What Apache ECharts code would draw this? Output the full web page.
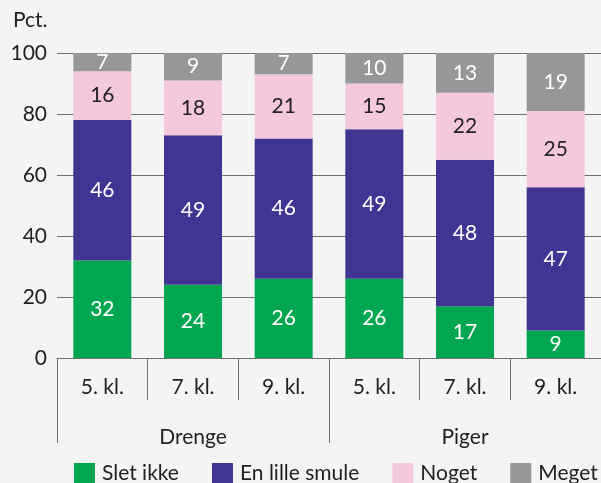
<!DOCTYPE html>
<html>
<head>
<meta charset="utf-8">
<script src="https://cdn.jsdelivr.net/npm/echarts@6/dist/echarts.min.js"></script>
<style>
  html, body { margin: 0; padding: 0; background: #f4f4f4; }
  #chart { width: 601px; height: 483px; }
</style>
</head>
<body>
<div id="chart"></div>
<script>
const classes = ['5. kl.', '7. kl.', '9. kl.', '5. kl.', '7. kl.', '9. kl.'];
const groups = ['Drenge', 'Piger'];
const yTicks = [0, 20, 40, 60, 80, 100];

const sletIkke = [32, 24, 26, 26, 17, 9];
const lilleSmule = [46, 49, 46, 49, 48, 47];
const noget = [16, 18, 21, 15, 22, 25];
const meget = [7, 9, 7, 10, 13, 19];

const font = 'Lato, "Noto Sans", sans-serif';
const gridColor = '#6f6f6f';
const fs = 21;

function barSeries(name, data, color, labelColor) {
  return {
    name: name,
    type: 'bar',
    stack: 'total',
    data: data,
    barWidth: 58,
    itemStyle: { color: color },
    label: {
      show: true,
      position: 'inside',
      color: labelColor,
      fontSize: fs,
      fontFamily: font
    }
  };
}

const chart = echarts.init(document.getElementById('chart'));
chart.setOption({
  backgroundColor: '#f4f4f4',
  animation: false,
  title: {
    text: 'Pct.',
    left: 8,
    top: 5,
    textStyle: { fontSize: fs, fontWeight: 'normal', color: '#222', fontFamily: font }
  },
  grid: { left: 57, right: 0, top: 53, bottom: 125 },
  legend: {
    top: 463,
    left: 74,
    itemWidth: 21,
    itemHeight: 21,
    itemGap: 33,
    padding: 0,
    icon: 'rect',
    textStyle: { fontSize: fs, color: '#222', fontFamily: font, padding: [0, 0, 0, 2] },
    data: ['Slet ikke', 'En lille smule', 'Noget', 'Meget']
  },
  xAxis: [
    {
      type: 'category',
      data: classes,
      axisLine: { show: true, lineStyle: { color: gridColor, width: 1 } },
      axisTick: { show: true, length: 42, lineStyle: { color: gridColor } },
      axisLabel: { margin: 19, fontSize: fs, color: '#222', fontFamily: font }
    },
    {
      type: 'category',
      position: 'bottom',
      data: groups,
      axisLine: { show: false },
      axisTick: { show: true, length: 85, lineStyle: { color: gridColor } },
      axisLabel: { margin: 69, fontSize: fs, color: '#222', fontFamily: font }
    }
  ],
  yAxis: {
    type: 'value',
    min: yTicks[0],
    max: yTicks[yTicks.length - 1],
    interval: 20,
    axisLine: { show: false },
    axisTick: { show: false },
    splitLine: { lineStyle: { color: gridColor, width: 1 } },
    axisLabel: { margin: 10, fontSize: fs, color: '#222', fontFamily: font }
  },
  series: [
    barSeries('Slet ikke', sletIkke, '#00a650', '#fff'),
    barSeries('En lille smule', lilleSmule, '#413594', '#fff'),
    barSeries('Noget', noget, '#f4c8dd', '#222'),
    barSeries('Meget', meget, '#97979a', '#fff')
  ]
});
</script>
</body>
</html>
